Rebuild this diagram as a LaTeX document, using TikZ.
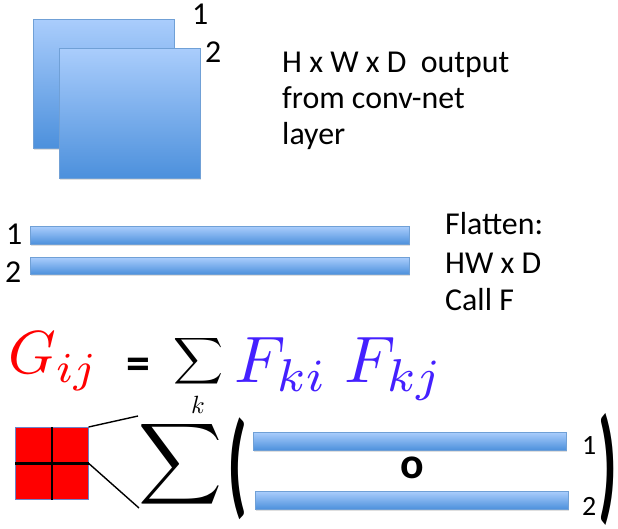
\documentclass[tikz,border=0pt]{standalone}
\usepackage[no-math]{fontspec}
\setmainfont{Carlito}
\usetikzlibrary{shadows}
\definecolor{barTop}{RGB}{170,205,252}
\definecolor{barBot}{RGB}{76,144,220}
\definecolor{barEdge}{RGB}{112,160,214}
\definecolor{fblue}{RGB}{68,32,255}
\definecolor{gramEdge}{RGB}{110,130,200}
\tikzset{
  panel/.style={draw=barEdge, line width=0.6bp, top color=barTop, bottom color=barBot,
    inner sep=0pt, anchor=north west,
    drop shadow={shadow xshift=1bp, shadow yshift=-1.5bp, opacity=0.25, fill=gray}},
  lbl/.style={inner sep=0pt, anchor=base west, font=\fontsize{32}{36}\selectfont},
  numlbl/.style={inner sep=0pt, anchor=base west, font=\fontsize{32}{34}\selectfont},
  smalllbl/.style={inner sep=0pt, anchor=base west, font=\fontsize{28}{28}\selectfont},
  mathlbl/.style={inner sep=0pt, anchor=base west, font=\fontsize{10}{12}\selectfont},
  conn/.style={line width=1.4bp, black},
  crossline/.style={line width=2.4bp, black},
  bigsym/.style={inner sep=0pt, anchor=north west}
}
\begin{document}
\begin{tikzpicture}[x=1bp,y=-1bp]
\useasboundingbox (0,0) rectangle (618,529);
% feature maps
\node[panel, minimum width=141bp, minimum height=129bp] (map1) at (33,19) {};
\node[panel, minimum width=141bp, minimum height=130bp] (map2) at (59,48) {};
\node[numlbl] (m1) at (192,25) {1};
\node[numlbl] (m2) at (205,63) {2};
\node[lbl] (t1) at (282,73) {H x W x D\ \ output};
\node[lbl] (t2) at (282,109) {from conv-net};
\node[lbl] (t3) at (282,145) {layer};
% flattened
\node[panel, minimum width=379bp, minimum height=18bp] (bar1) at (30,226) {};
\node[panel, minimum width=379bp, minimum height=17bp] (bar2) at (30,257) {};
\node[numlbl] (b1) at (6,245) {1};
\node[numlbl] (b2) at (5,282) {2};
\node[lbl] (f1) at (445,235) {Flatten:};
\node[lbl] (f2) at (445,273) {HW x D};
\node[lbl] (f3) at (445,310) {Call F};
% formula
\node[mathlbl, text=red, scale=6.1] (G) at (7,373) {$G_{ij}$};
\node[inner sep=0pt, anchor=base, font=\bfseries\fontsize{48}{48}\selectfont] (eq) at (138,379) {=};
\node[bigsym] (sum1) at (173,335) {\resizebox*{50bp}{52bp}{$\displaystyle\sum$}};
\node[mathlbl, anchor=base, scale=2.5] (k) at (198,413) {$k$};
\node[mathlbl, text=fblue, scale=6.6] (Fki) at (233,382) {$F_{ki}$};
\node[mathlbl, text=fblue, scale=6.6] (Fkj) at (343,382) {$F_{kj}$};
% bottom
\node[fill=red, draw=gramEdge, line width=0.6bp, inner sep=0pt, anchor=north west,
      minimum width=73bp, minimum height=72bp] (gram) at (15,427) {};
\draw[crossline] (gram.north) -- (gram.south);
\draw[crossline] (gram.west) -- (gram.east);
\node[bigsym] (sum2) at (138,419) {\resizebox*{84bp}{91bp}{$\displaystyle\sum$}};
\coordinate (s2tl) at (138,416);
\coordinate (s2bl) at (139,508);
\draw[conn] (gram.north east) -- (s2tl);
\draw[conn] (gram.east) -- (s2bl);
\node[bigsym] (lp) at (227,418) {\resizebox*{20bp}{102bp}{\bfseries (}};
\node[panel, minimum width=313bp, minimum height=18bp] (bar3) at (253,432) {};
\node[panel, minimum width=313bp, minimum height=18bp] (bar4) at (255,491) {};
\node[inner sep=0pt, anchor=center, font=\bfseries\fontsize{44}{44}\selectfont] (hprod) at (412,468) {o};
\node[smalllbl] (r1) at (582,454) {1};
\node[smalllbl] (r2) at (582,515) {2};
\node[bigsym] (rp) at (598,413) {\resizebox*{19bp}{112bp}{\bfseries )}};
\end{tikzpicture}
\end{document}
